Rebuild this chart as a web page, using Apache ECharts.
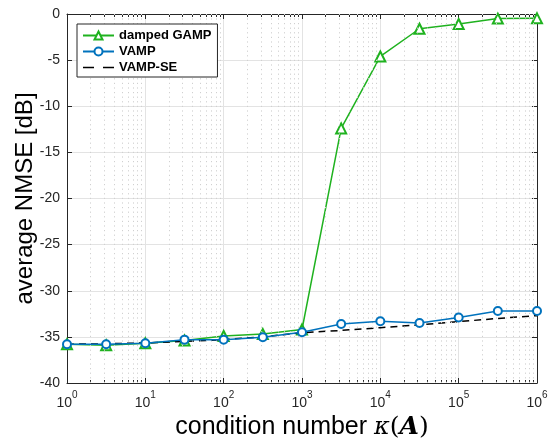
<!DOCTYPE html>
<html><head><meta charset="utf-8">
<script src="https://cdn.jsdelivr.net/npm/echarts@6/dist/echarts.min.js"></script>
<style>html,body{margin:0;padding:0;background:#fff}#c{width:548px;height:439px}</style>
</head><body><div id="c"></div>
<script>
const kappa = [1, 3.1623, 10, 31.623, 100, 316.23, 1000, 3162.3, 10000, 31623, 100000, 316230, 1000000];
const gamp = [-35.8, -35.9, -35.7, -35.4, -34.9, -34.7, -34.2, -12.4, -4.6, -1.6, -1.08, -0.5, -0.47];
const vamp = [-35.8, -35.8, -35.7, -35.3, -35.3, -35.05, -34.5, -33.6, -33.3, -33.5, -32.9, -32.2, -32.2];
const vampSE = [-35.8, -35.75, -35.65, -35.5, -35.3, -35.0, -34.55, -34.3, -34.0, -33.7, -33.35, -33.0, -32.7];
const yTicks = [-40, -35, -30, -25, -20, -15, -10, -5, 0];
const minorX = [];
for (let e = 0; e < 6; e++) for (let m = 2; m <= 9; m++) minorX.push(m * Math.pow(10, e));

const FONT = 'Liberation Sans';
const pair = (xs, ys) => xs.map((x, i) => [x, ys[i]]);
const xLabel = v => {
  const e = Math.round(Math.log10(v));
  return '{b|10}{s|' + e + '}';
};
const baseX = {
  type: 'log', logBase: 10, min: 1, max: 1e6, gridIndex: 0,
  axisLine: {show: true, onZero: false, lineStyle: {color: '#262626', width: 1}},
  axisTick: {show: true, inside: true, length: 5, lineStyle: {color: '#262626'}},
  minorTick: {show: true, splitNumber: 9, length: 3, lineStyle: {color: '#262626'}},
  splitLine: {show: false},
};
const baseY = {
  type: 'value', min: -40, max: 0, interval: 5,
  axisLine: {show: true, onZero: false, lineStyle: {color: '#262626', width: 1}},
  axisTick: {show: true, inside: true, length: 5, lineStyle: {color: '#262626'}},
};
const dashIcon = 'path://M0,0L0,0M0,4.3H11V5.7H0ZM20,4.3H31V5.7H20ZM31,10L31,10';
const chart = echarts.init(document.getElementById('c'), null, {renderer: 'canvas'});
chart.setOption({
  animation: false,
  backgroundColor: '#fff',
  textStyle: {fontFamily: FONT},
  grid: {left: 67, right: 11, top: 14, bottom: 56, containLabel: false, outerBoundsMode: 'none'},
  legend: {
    orient: 'vertical', left: 77, top: 24, z: 10,
    padding: [5, 6, 3, 5], itemGap: 3, itemWidth: 31, itemHeight: 10,
    borderColor: '#262626', borderWidth: 1, backgroundColor: '#fff',
    textStyle: {fontFamily: FONT, fontWeight: 'bold', fontSize: 13, color: '#000'},
    data: ['damped GAMP', 'VAMP', {name: 'VAMP-SE', icon: dashIcon, itemStyle: {color: '#000'}}]
  },
  xAxis: [
    Object.assign({}, baseX, {
      position: 'bottom',
      splitLine: {show: true, lineStyle: {color: '#e3e3e3', width: 1}},
      axisLabel: {
        margin: 7, formatter: xLabel,
        rich: {
          b: {fontFamily: FONT, fontSize: 14, color: '#262626', padding: [6, 0, 0, 0]},
          s: {fontFamily: FONT, fontSize: 10, color: '#262626', verticalAlign: 'top', padding: [0, 0, 0, 0]}
        }
      },
      name: '{n|condition number }{k|κ}{p|(}{a|A}{p|)}',
      nameLocation: 'middle', nameGap: 30,
      nameTextStyle: {
        rich: {
          n: {fontFamily: FONT, fontSize: 25, color: '#000'},
          k: {fontFamily: 'DejaVu Serif', fontStyle: 'italic', fontSize: 24, color: '#000'},
          p: {fontFamily: 'DejaVu Serif', fontSize: 25, color: '#000'},
          a: {fontFamily: 'DejaVu Serif', fontStyle: 'italic', fontWeight: 'bold', fontSize: 25, color: '#000'}
        }
      }
    }),
    Object.assign({}, baseX, {position: 'top', axisLabel: {show: false}})
  ],
  yAxis: [
    Object.assign({}, baseY, {
      position: 'left',
      splitLine: {show: true, lineStyle: {color: '#e3e3e3', width: 1}},
      axisLabel: {margin: 7, fontFamily: FONT, fontSize: 14, color: '#262626',
        formatter: v => yTicks.includes(v) ? String(v) : ''},
      name: 'average NMSE [dB]', nameLocation: 'middle', nameGap: 30, nameMoveOverlap: false,
      nameTextStyle: {fontFamily: FONT, fontSize: 24, color: '#000'}
    }),
    Object.assign({}, baseY, {position: 'right', axisLabel: {show: false}, splitLine: {show: false}})
  ],
  series: [
    {
      name: 'minor', type: 'line', data: [], xAxisIndex: 0, yAxisIndex: 0, silent: true,
      markLine: {
        silent: true, symbol: 'none', label: {show: false},
        lineStyle: {color: '#d0d0d0', type: [1.2, 3.4], width: 1},
        data: minorX.map(v => ({xAxis: v}))
      }
    },
    {
      name: 'VAMP-SE', type: 'line', data: pair(kappa, vampSE), symbol: 'none',
      lineStyle: {color: '#000', width: 1.5, type: [7, 5]}, itemStyle: {color: '#000'}, z: 4
    },
    {
      name: 'damped GAMP', type: 'line', data: pair(kappa, gamp),
      symbol: 'emptyTriangle', symbolSize: 10,
      lineStyle: {color: '#1fb21f', width: 1.5},
      itemStyle: {color: '#1fb21f', borderWidth: 1.5}, z: 3
    },
    {
      name: 'VAMP', type: 'line', data: pair(kappa, vamp),
      symbol: 'emptyCircle', symbolSize: 8,
      lineStyle: {color: '#0072bd', width: 1.5},
      itemStyle: {color: '#0072bd', borderWidth: 1.5}, z: 5
    }
  ]
});
</script></body></html>
